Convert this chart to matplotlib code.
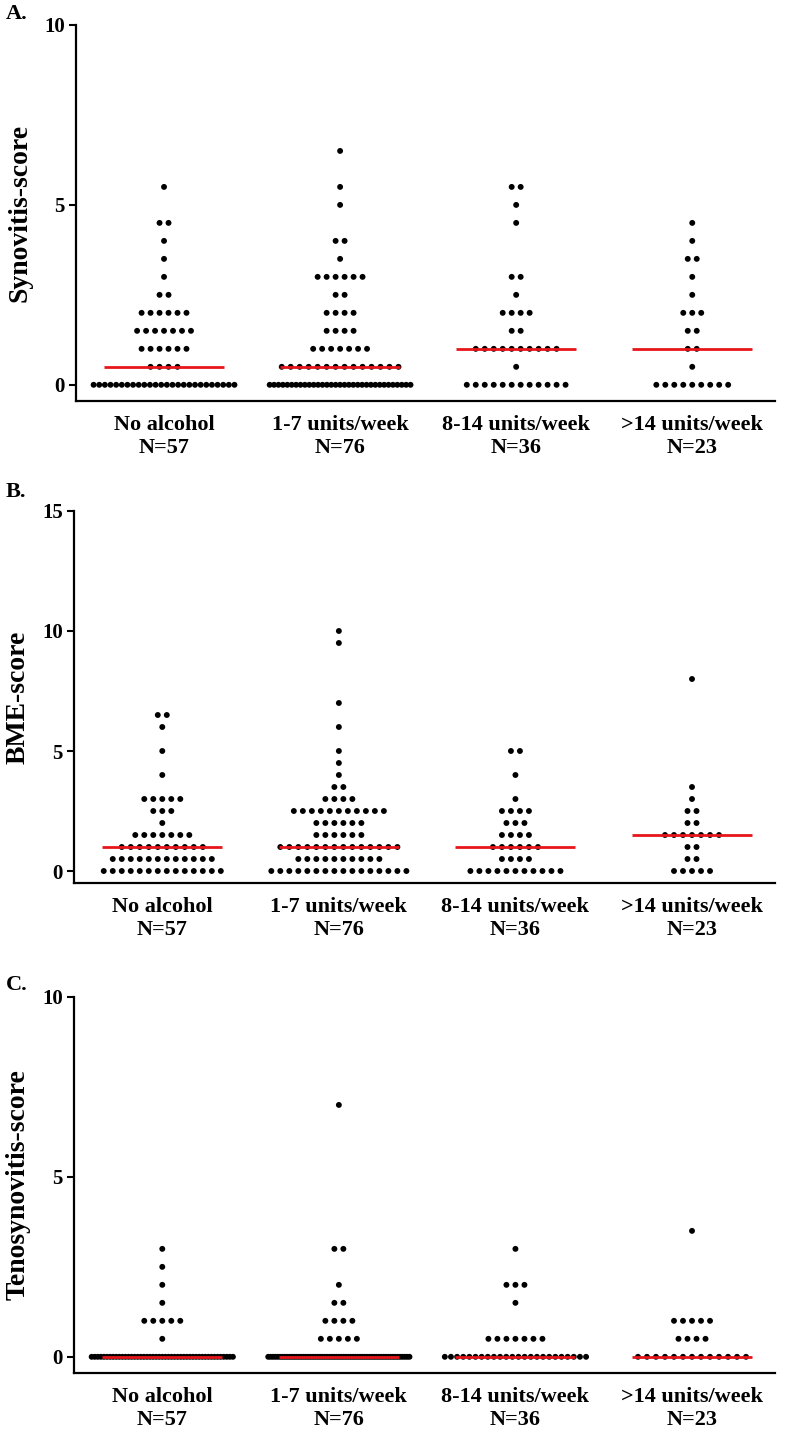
import numpy as np
import matplotlib
matplotlib.use("Agg")
import matplotlib.pyplot as plt

plt.rcParams['font.family'] = ['Liberation Serif', 'DejaVu Serif']
plt.rcParams['font.weight'] = 'bold'

groups = ['No alcohol\nN=57', '1-7 units/week\nN=76', '8-14 units/week\nN=36', '>14 units/week\nN=23']

# score levels and number of patients at each level, per group
syn_levels = [0, 0.5, 1, 1.5, 2, 2.5, 3, 3.5, 4, 4.5, 5, 5.5, 6, 6.5]
syn_counts = [
    [26, 4, 6, 7, 6, 2, 1, 1, 1, 2, 0, 1, 0, 0],
    [33, 14, 7, 4, 4, 2, 6, 1, 2, 0, 1, 1, 0, 1],
    [12, 1, 10, 2, 4, 1, 2, 0, 0, 1, 1, 2, 0, 0],
    [9, 1, 2, 2, 3, 1, 1, 2, 1, 1, 0, 0, 0, 0],
]

bme_levels = [0, 0.5, 1, 1.5, 2, 2.5, 3, 3.5, 4, 4.5, 5, 6, 6.5, 7, 8, 9.5, 10]
bme_counts = [
    [14, 12, 10, 7, 1, 3, 5, 0, 1, 0, 1, 1, 2, 0, 0, 0, 0],
    [16, 10, 14, 6, 6, 11, 4, 2, 1, 1, 1, 1, 0, 1, 0, 1, 1],
    [11, 4, 6, 4, 3, 4, 1, 0, 1, 0, 2, 0, 0, 0, 0, 0, 0],
    [5, 2, 2, 7, 2, 2, 1, 1, 0, 0, 0, 0, 0, 0, 1, 0, 0],
]

teno_levels = [0, 0.5, 1, 1.5, 2, 2.5, 3, 3.5, 7]
teno_counts = [
    [47, 1, 5, 1, 1, 1, 1, 0, 0],
    [61, 5, 4, 2, 1, 0, 2, 0, 1],
    [24, 7, 0, 1, 3, 0, 1, 0, 0],
    [13, 4, 5, 0, 0, 0, 0, 1, 0],
]

panels = [
    ('A.', 'Synovitis-score', syn_levels, syn_counts, 10, [0, 5, 10], 0.45),
    ('B.', 'BME-score', bme_levels, bme_counts, 15, [0, 5, 10, 15], 0.5),
    ('C.', 'Tenosynovitis-score', teno_levels, teno_counts, 10, [0, 5, 10], 0.45),
]

W, H = 787, 1443
fig = plt.figure(figsize=(W / 100, H / 100), dpi=100)

# axes boxes in pixels: left, top, right, bottom
boxes = [(76, 25, 775, 401), (74, 511, 775, 883), (74, 997, 775, 1373)]
letter_y = [14, 492, 985]

step = 0.051      # horizontal gap between dots (data units)
max_w = 0.8       # widest a row may get

for k, (letter, ylab, levels, counts, ytop, yticks, ypad) in enumerate(panels):
    l, t, r, b = boxes[k]
    ax = fig.add_axes([l / W, 1 - b / H, (r - l) / W, (b - t) / H])
    for i, cnt in enumerate(counts):
        xs, ys = [], []
        for lev, n in zip(levels, cnt):
            if n == 0:
                continue
            sp = step if n < 2 else min(step, max_w / (n - 1))
            off = (np.arange(n) - (n - 1) / 2) * sp
            xs.extend(i + off)
            ys.extend([lev] * n)
        ax.scatter(xs, ys, s=18, color='black', edgecolors='none', zorder=2)
        med = np.median(np.repeat(levels, cnt))
        ax.hlines(med, i - 0.34, i + 0.34, color='#e8161b', linewidth=2, zorder=3)

    ax.set_xlim(-0.5, 3.47)
    ax.set_ylim(-ypad, ytop)
    ax.set_yticks(yticks)
    ax.set_xticks(range(4))
    ax.set_xticklabels(groups, fontsize=16, fontweight='bold', linespacing=1.2)
    ax.tick_params(axis='x', length=0, pad=10)
    ax.tick_params(axis='y', length=5, width=1.5, labelsize=15, pad=3)
    for lab in ax.get_yticklabels():
        lab.set_fontweight('bold')
    ax.spines['top'].set_visible(False)
    ax.spines['right'].set_visible(False)
    ax.spines['left'].set_linewidth(1.6)
    ax.spines['bottom'].set_linewidth(1.6)
    ax.spines['left'].set_bounds(-ypad, ytop)
    ax.set_ylabel(ylab, fontsize=20, fontweight='bold')
    ax.yaxis.set_label_coords(-0.062, 0.5)
    fig.text(6 / W, 1 - letter_y[k] / H, letter, fontsize=16, fontweight='bold', va='center', ha='left')

fig.savefig('out.png', dpi=100)
